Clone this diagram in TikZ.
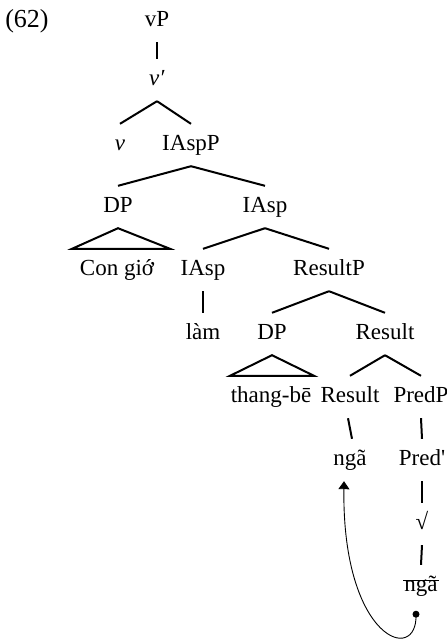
\documentclass[tikz,border=0pt]{standalone}
\usepackage{fontspec}
\newfontfamily\treefont{Liberation Serif}
\usetikzlibrary{calc,arrows.meta}
\newcommand\treelink[2]{\draw[treeline] ($(#1.south)+(0,12)$) -- ($(#2.north)+(0,-12)$);}
\begin{document}
\begin{tikzpicture}[x=1pt,y=-1pt,
  lbl/.style={anchor=base,inner sep=0pt,text height=14pt,text depth=4pt,
    font=\treefont\fontsize{23}{27}\selectfont},
  treeline/.style={line width=2pt},
  movearrow/.style={line width=0.9pt,-{Triangle[width=11pt,length=8pt]}}]
\useasboundingbox (0,0) rectangle (447,641);

% example number
\node[lbl,font=\treefont\fontsize{26}{30}\selectfont] (ex) at (27,27) {(62)};

% tree labels
\node[lbl] (vP)    at (157,26)  {vP};
\node[lbl] (vbar)  at (157,85)  {\textit{v′}};
\node[lbl] (v)     at (120,150) {\textit{v}};
\node[lbl] (IAspP) at (191,150) {IAspP};
\node[lbl] (DP1)   at (118,212) {DP};
\node[lbl] (IAsp1) at (265,212) {IAsp};
\node[lbl] (cg)    at (117,275) {Con giớ};
\node[lbl] (IAsp2) at (203,275) {IAsp};
\node[lbl] (ResP)  at (329,275) {ResultP};
\node[lbl] (lam)   at (203,339) {làm};
\node[lbl] (DP2)   at (272,339) {DP};
\node[lbl] (Res1)  at (385,339) {Result};
\node[lbl] (tb)    at (271,402) {thang-bē};
\node[lbl] (Res2)  at (350,402) {Result};
\node[lbl] (PredP) at (421,402) {PredP};
\node[lbl] (nga1)  at (350,465) {ngã};
\node[lbl] (Predb) at (422,465) {Pred'};
\node[lbl] (root)  at (422,529) {√};
\node[lbl] (nga2)  at (421,591) {ngã};

% branches
\treelink{vP}{vbar}
\treelink{vbar}{v}
\treelink{vbar}{IAspP}
\treelink{IAspP}{DP1}
\treelink{IAspP}{IAsp1}
\treelink{IAsp1}{IAsp2}
\treelink{IAsp1}{ResP}
\treelink{IAsp2}{lam}
\treelink{ResP}{DP2}
\treelink{ResP}{Res1}
\treelink{Res1}{Res2}
\treelink{Res1}{PredP}
\treelink{PredP}{Predb}
\treelink{Predb}{root}
\treelink{root}{nga2}
\draw[treeline] ($(Res2.south)+(-2,12)$) -- ($(nga1.north)+(2,-12)$);

% roof triangles
\draw[treeline] ($(DP1.south)+(0,12)$) -- ($(cg.north)+(-45,-12)$)
  -- ($(cg.north)+(53,-12)$) -- cycle;
\draw[treeline] ($(DP2.south)+(0,12)$) -- ($(tb.north)+(-41,-12)$)
  -- ($(tb.north)+(43,-12)$) -- cycle;

% deleted copy
\draw[line width=1pt] ($(nga2.base west)+(-1,-10.5)$) -- ($(nga2.base east)+(1,-10.5)$);

% head movement
\coordinate (tip) at ($(nga1.south)+(-6,12)$);
\coordinate (dot) at ($(nga2.south)+(-5,19)$);
\fill (dot) circle (3.5);
\draw[movearrow] (dot) .. controls +(2,51) and +(-2,159) .. (tip);
\end{tikzpicture}
\end{document}
